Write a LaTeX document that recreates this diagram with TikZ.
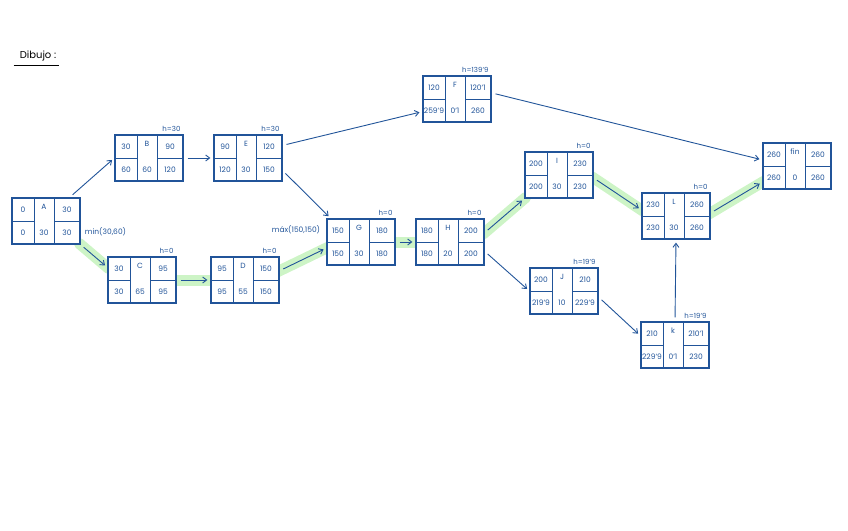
\documentclass[tikz,border=0pt]{standalone}
\usepackage{fontspec}
\setmainfont{Poppins}
\usepackage{tikz}
\usetikzlibrary{arrows.meta, calc, backgrounds}
\definecolor{cInk}{RGB}{33,84,153}
\definecolor{cCrit}{RGB}{205,244,198}
\tikzset{
	actbox/.style ={rectangle, draw=cInk, fill=white, line width=1.3pt, minimum width=68pt, minimum height=46pt, inner sep=0pt},
	cell/.style   ={draw=cInk, line width=1pt},
	num/.style    ={text=cInk, font=\fontsize{7.5}{9}\selectfont, inner sep=0pt},
	holgura/.style={text=cInk, font=\fontsize{7}{8}\selectfont, inner sep=0pt, anchor=south east, xshift=-3pt, yshift=3pt},
	nota/.style   ={text=cInk, font=\fontsize{7.5}{9}\selectfont, inner sep=0pt},
	flecha/.style ={-{Straight Barb[length=4pt, width=6pt]}, draw=cInk, line width=0.9pt, shorten <=4pt, shorten >=3pt},
	critica/.style={draw=cCrit, line width=11pt, line cap=round, shorten <=-2pt, shorten >=-2pt},
}
% activity box: name, x, y, label, early start, early finish, duration, late start, late finish
\newcommand{\actividad}[9]{%
	\node[actbox] (#1) at (#2,#3) {};
	\begin{scope}[shift={(#1.center)}]
		\draw[cell] (-12,-23) -- (-12,23) (8,-23) -- (8,23) (-34,0) -- (-12,0) (8,0) -- (34,0);
		\node[num] (#1-nom) at (-2,-14) {#4};
		\node[num] (#1-es) at (-23,-11.5) {#5};
		\node[num] (#1-ef) at (21,-11.5) {#6};
		\node[num] (#1-dur) at (-2,12) {#7};
		\node[num] (#1-ls) at (-23,11.5) {#8};
		\node[num] (#1-lf) at (21,11.5) {#9};
	\end{scope}
}

\begin{document}
\begin{tikzpicture}[x=1pt, y=-1pt]
	\useasboundingbox (0,0) rectangle (848,530);
	\node[font=\fontsize{10}{12}\selectfont, inner sep=1pt] (titulo) at (38,56) {Dibujo :};
	\draw[line width=0.9pt] ([xshift=-5pt, yshift=-3pt]titulo.south west) -- ([xshift=2pt, yshift=-3pt]titulo.south east);
	\actividad{A}{46}{221}{A}{0}{30}{30}{0}{30}
	\actividad{B}{149}{158}{B}{30}{90}{60}{60}{120}
	\actividad{E}{248}{158}{E}{90}{120}{30}{120}{150}
	\actividad{C}{142}{280}{C}{30}{95}{65}{30}{95}
	\actividad{D}{245}{280}{D}{95}{150}{55}{95}{150}
	\actividad{G}{361}{242}{G}{150}{180}{30}{150}{180}
	\actividad{H}{450}{242}{H}{180}{200}{20}{180}{200}
	\actividad{F}{457}{99}{F}{120}{120'1}{0'1}{259'9}{260}
	\actividad{I}{559}{175}{I}{200}{230}{30}{200}{230}
	\actividad{J}{564}{291}{J}{200}{210}{10}{219'9}{229'9}
	\actividad{L}{676}{216}{L}{230}{260}{30}{230}{260}
	\actividad{K}{675}{345}{k}{210}{210'1}{0'1}{229'9}{230}
	\actividad{fin}{797}{166}{fin}{260}{260}{0}{260}{260}
	% slack labels
	\foreach \n/\h in {B/30, E/30, C/0, D/0, G/0, H/0, F/139'9, I/0, J/19'9, L/0, K/19'9}
		\node[holgura] (h-\n) at (\n.north east) {h=\h};
	\node[nota, anchor=west] (minAC) at ([xshift=4pt, yshift=-11pt]A.east) {min(30,60)};
	\node[nota, anchor=east] (maxG) at ([xshift=-6pt, yshift=12pt]G.west) {máx(150,150)};
	% critical path
	\begin{scope}[on background layer]
		\foreach \a/\b in {A.south east/C.160, C.east/D.west, D.15/G.190, G.east/H.west,
			H.15/I.south west, I.-5/L.170, L.5/fin.205}
			\draw[critica] (\a) -- (\b);
	\end{scope}
	% precedences
	\foreach \a/\b in {A.45/B.west, A.south east/C.160, B.east/E.west, C.east/D.west,
		E.20/F.200, E.-20/G.142, D.15/G.190, G.east/H.west, H.15/I.south west,
		H.-15/J.west, I.-5/L.170, J.-10/K.165, K.north/L.south, L.5/fin.205, F.10/fin.170}
		\draw[flecha] (\a) -- (\b);
\end{tikzpicture}
\end{document}
